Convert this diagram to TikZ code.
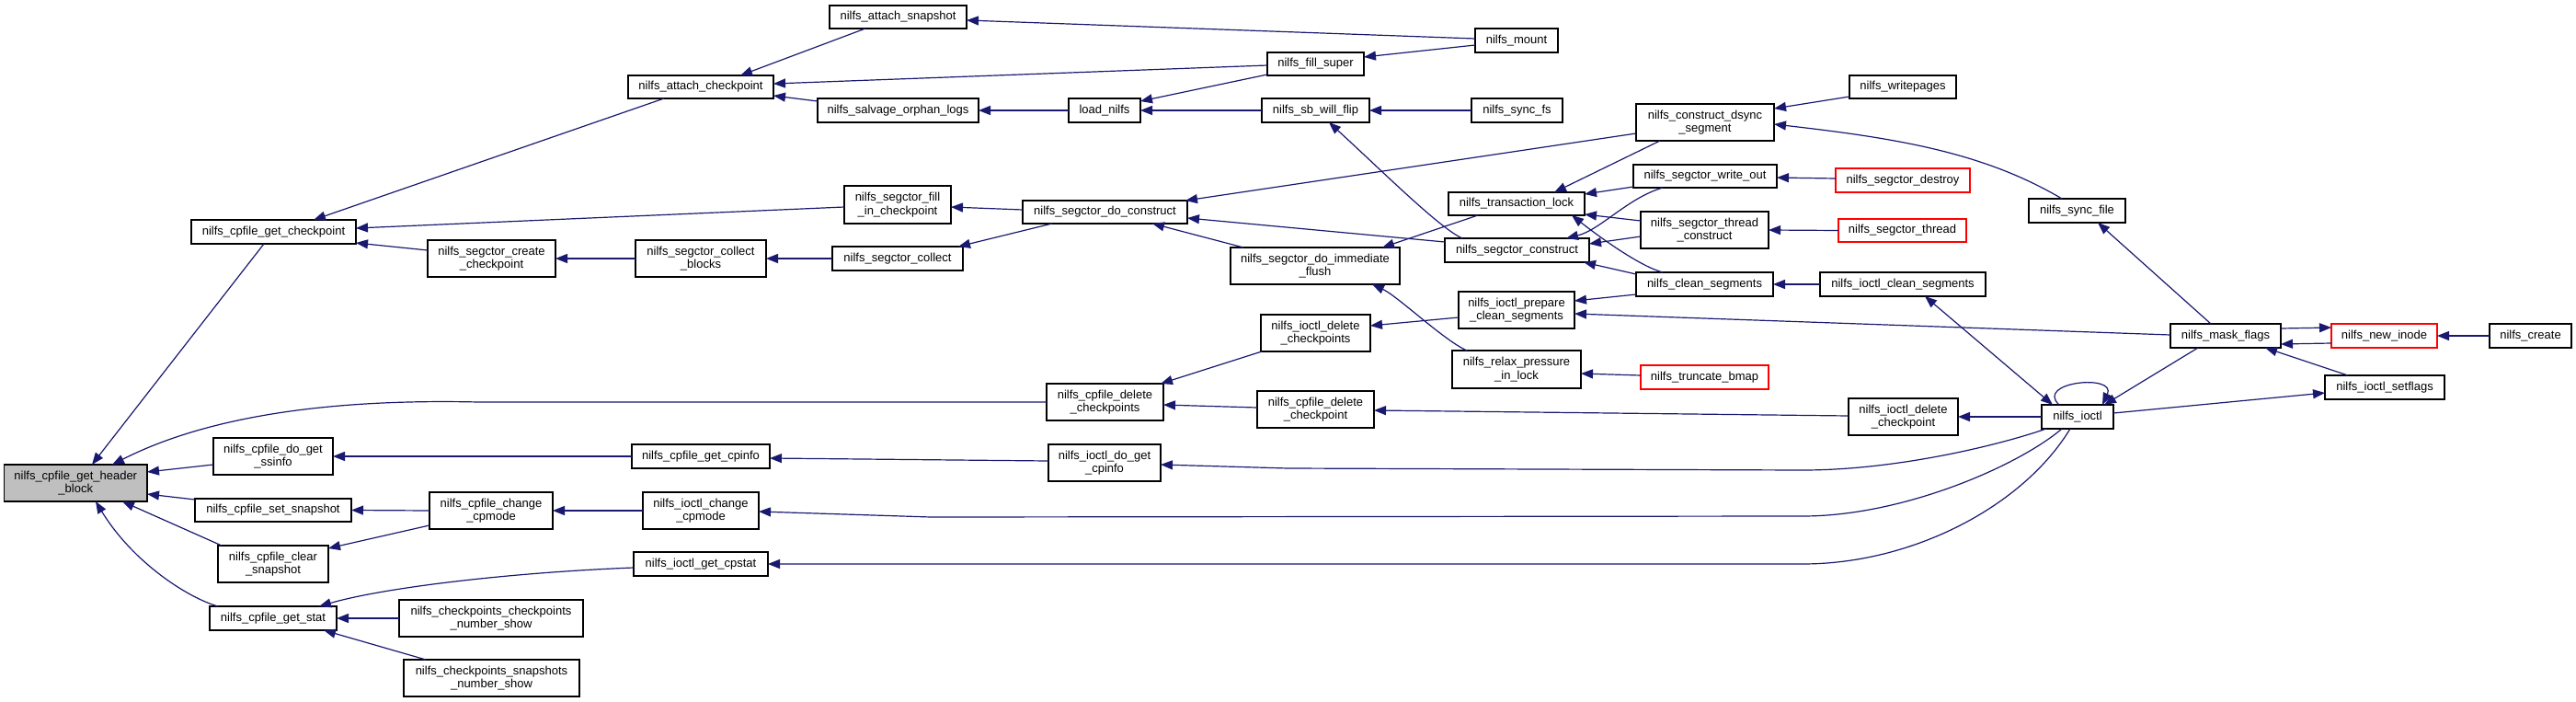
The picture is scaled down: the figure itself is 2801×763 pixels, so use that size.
\documentclass[tikz,border=0pt]{standalone}
\usepackage{fontspec}
\setmainfont{Liberation Sans}
\usetikzlibrary{arrows.meta}
\definecolor{mblue}{RGB}{25,25,112}
\definecolor{hbgray}{RGB}{191,191,191}
\newcommand\bx[7][]{%
  \pgfmathsetmacro\bxcx{(#3+#5)/2}\pgfmathsetmacro\bxcy{(#4+#6)/2}%
  \pgfmathsetmacro\bxw{#5-#3}\pgfmathsetmacro\bxh{#6-#4}%
  \node[box,#1,minimum width=\bxw pt,minimum height=\bxh pt] (#2) at (\bxcx,\bxcy) {#7};}
\begin{document}
\begin{tikzpicture}[x=1pt,y=-1pt,
  box/.style={draw=black, line width=1.2pt, fill=white, rectangle, inner sep=0pt, outer sep=0pt, align=center, font=\fontsize{13}{14.7}\selectfont},
  redbox/.style={draw=red},
  edge/.style={draw=mblue, line width=1.2pt, -{Triangle[length=13pt,width=10pt]}},
  bothedge/.style={draw=mblue, line width=1.2pt, {Triangle[length=13pt,width=10pt]}-{Triangle[length=13pt,width=10pt]}}]
\useasboundingbox (0,0) rectangle (2801,763);
% nodes
\bx[fill=hbgray]{hb}{4.5}{505}{160}{545}{nilfs\_cpfile\_get\_header\\\_block}
\bx{gcp}{208}{239}{387}{265}{nilfs\_cpfile\_get\_checkpoint}
\bx{ach}{683}{82}{841}{107}{nilfs\_attach\_checkpoint}
\bx{asn}{902}{6}{1051}{31}{nilfs\_attach\_snapshot}
\bx{mnt}{1604}{31}{1694}{57}{nilfs\_mount}
\bx{fsu}{1378}{57}{1483}{82}{nilfs\_fill\_super}
\bx{sol}{889}{107}{1064}{133}{nilfs\_salvage\_orphan\_logs}
\bx{lnf}{1162}{107}{1240}{133}{load\_nilfs}
\bx{swf}{1372}{107}{1489}{133}{nilfs\_sb\_will\_flip}
\bx{sfs}{1600}{107}{1699}{133}{nilfs\_sync\_fs}
\bx{fic}{918}{202}{1034}{243}{nilfs\_segctor\_fill\\\_in\_checkpoint}
\bx{sdc}{1112}{218}{1291}{243}{nilfs\_segctor\_do\_construct}
\bx{scc}{465}{261}{604}{301}{nilfs\_segctor\_create\\\_checkpoint}
\bx{scb}{691}{261}{833}{301}{nilfs\_segctor\_collect\\\_blocks}
\bx{sco}{905}{268}{1047}{294}{nilfs\_segctor\_collect}
\bx{cds}{1779}{113}{1929}{153}{nilfs\_construct\_dsync\\\_segment}
\bx{wpg}{2011}{82}{2127}{107}{nilfs\_writepages}
\bx{swo}{1776}{179}{1932}{204}{nilfs\_segctor\_write\_out}
\bx[redbox]{sds}{1996}{183}{2142}{209}{nilfs\_segctor\_destroy}
\bx{stc}{1784}{230}{1923}{270}{nilfs\_segctor\_thread\\\_construct}
\bx[redbox]{sth}{1999}{238}{2138}{263}{nilfs\_segctor\_thread}
\bx{tlk}{1575}{209}{1723}{234}{nilfs\_transaction\_lock}
\bx{scn}{1571}{259}{1728}{285}{nilfs\_segctor\_construct}
\bx{dif}{1338}{269}{1522}{309}{nilfs\_segctor\_do\_immediate\\\_flush}
\bx{cls}{1779}{296}{1928}{322}{nilfs\_clean\_segments}
\bx{ics}{1979}{296}{2159}{322}{nilfs\_ioctl\_clean\_segments}
\bx{ipc}{1586}{317}{1712}{357}{nilfs\_ioctl\_prepare\\\_clean\_segments}
\bx{idc}{1371}{342}{1490}{382}{nilfs\_ioctl\_delete\\\_checkpoints}
\bx{rpl}{1579}{381}{1719}{422}{nilfs\_relax\_pressure\\\_in\_lock}
\bx[redbox]{tbm}{1784}{397}{1923}{423}{nilfs\_truncate\_bmap}
\bx{cdcs}{1138}{417}{1265}{457}{nilfs\_cpfile\_delete\\\_checkpoints}
\bx{cdc}{1367}{425}{1494}{465}{nilfs\_cpfile\_delete\\\_checkpoint}
\bx{iodc}{2010}{433}{2129}{473}{nilfs\_ioctl\_delete\\\_checkpoint}
\bx{ioc}{2220}{440}{2298}{466}{nilfs\_ioctl}
\bx{ssi}{232}{476}{362}{516}{nilfs\_cpfile\_do\_get\\\_ssinfo}
\bx{cpi}{687}{483}{837}{509}{nilfs\_cpfile\_get\_cpinfo}
\bx{igc}{1140}{483}{1262}{523}{nilfs\_ioctl\_do\_get\\\_cpinfo}
\bx{ssn}{212}{542}{382}{567}{nilfs\_cpfile\_set\_snapshot}
\bx{ccm}{467}{535}{601}{575}{nilfs\_cpfile\_change\\\_cpmode}
\bx{icm}{699}{535}{825}{575}{nilfs\_ioctl\_change\\\_cpmode}
\bx{csn}{237}{593}{357}{633}{nilfs\_cpfile\_clear\\\_snapshot}
\bx{igs}{689}{600}{835}{626}{nilfs\_ioctl\_get\_cpstat}
\bx{gst}{228}{659}{366}{685}{nilfs\_cpfile\_get\_stat}
\bx{ccn}{434}{652}{634}{692}{nilfs\_checkpoints\_checkpoints\\\_number\_show}
\bx{csh}{439}{717}{630}{757}{nilfs\_checkpoints\_snapshots\\\_number\_show}
\bx{sfi}{2206}{216}{2311}{242}{nilfs\_sync\_file}
\bx{mfl}{2360}{352}{2480}{378}{nilfs\_mask\_flags}
\bx[redbox]{nin}{2535}{352}{2650}{378}{nilfs\_new\_inode}
\bx{cre}{2707}{352}{2796}{378}{nilfs\_create}
\bx{isf}{2528}{408}{2658}{434}{nilfs\_ioctl\_setflags}
% edges
\draw[edge] ([shift={(-10.5,13)}]gcp.center) -- ([shift={(17.75,-20)}]hb.center);
\draw[edge] (cdcs.west) -- (520,437) .. controls (390,434) and (240,445) .. ([shift={(39.75,-20)}]hb.center);
\draw[edge] ([shift={(-65,9)}]ssi.center) -- ([shift={(77.75,-12)}]hb.center);
\draw[edge] ([shift={(-85,-11.5)}]ssn.center) -- ([shift={(77.75,12)}]hb.center);
\draw[edge] ([shift={(-56,-20)}]csn.center) -- ([shift={(50.75,20)}]hb.center);
\draw[edge] ([shift={(-60,-13)}]gst.center) .. controls (205,650) and (145,612) .. ([shift={(21.75,20)}]hb.center);
\draw[edge] ([shift={(-40,12.5)}]ach.center) -- ([shift={(43.5,-13)}]gcp.center);
\draw[edge] ([shift={(-58,2.5)}]fic.center) -- ([shift={(89.5,-4)}]gcp.center);
\draw[edge] ([shift={(-69.5,-9)}]scc.center) -- ([shift={(89.5,12)}]gcp.center);
\draw[edge] ([shift={(-35.5,12.5)}]asn.center) -- ([shift={(43,-12.5)}]ach.center);
\draw[edge] ([shift={(-52.5,1.5)}]fsu.center) -- ([shift={(79,-3.5)}]ach.center);
\draw[edge] ([shift={(-87.5,-10)}]sol.center) -- ([shift={(79,9.5)}]ach.center);
\draw[edge] ([shift={(-45,-2)}]mnt.center) -- ([shift={(74.5,3.5)}]asn.center);
\draw[edge] ([shift={(-45,5)}]mnt.center) -- ([shift={(52.5,-7.5)}]fsu.center);
\draw[edge] (lnf.west) -- (sol.east);
\draw[edge] ([shift={(-52.5,11.5)}]fsu.center) -- ([shift={(39,-10)}]lnf.center);
\draw[edge] (swf.west) -- (lnf.east);
\draw[edge] (sfs.west) -- (swf.east);
\draw[edge] ([shift={(-59.5,-13)}]scn.center) .. controls (1565,248) and (1500,183) .. ([shift={(14.5,13)}]swf.center);
\draw[edge] ([shift={(-89.5,-2.5)}]sdc.center) -- ([shift={(58,2.5)}]fic.center);
\draw[edge] ([shift={(-57.5,12.5)}]sdc.center) -- ([shift={(66,-13)}]sco.center);
\draw[edge] (sco.west) -- (scb.east);
\draw[edge] (scb.west) -- (scc.east);
\draw[edge] ([shift={(-75,12)}]cds.center) -- ([shift={(87.5,-12.5)}]sdc.center);
\draw[edge] ([shift={(-78.5,-9)}]scn.center) -- ([shift={(89.5,6.5)}]sdc.center);
\draw[edge] ([shift={(-78,-20)}]dif.center) -- ([shift={(51.5,12.5)}]sdc.center);
\draw[edge] ([shift={(-58,10.5)}]wpg.center) -- ([shift={(75,-15)}]cds.center);
\draw[edge] ([shift={(-16.5,-13)}]sfi.center) .. controls (2156,165) and (2060,150) .. ([shift={(75,2)}]cds.center);
\draw[edge] ([shift={(-49,20)}]cds.center) -- ([shift={(41,-12.5)}]tlk.center);
\draw[edge] ([shift={(-78,11.5)}]swo.center) -- ([shift={(74,-10.5)}]tlk.center);
\draw[edge] ([shift={(-69.5,-10)}]stc.center) -- ([shift={(74,11.5)}]tlk.center);
\draw[edge] ([shift={(-45.5,-13)}]cls.center) .. controls (1785,290) and (1745,262) .. ([shift={(60,12.5)}]tlk.center);
\draw[edge] ([shift={(-42,12.5)}]tlk.center) -- ([shift={(73,-20)}]dif.center);
\draw[edge] ([shift={(-46,12.5)}]swo.center) .. controls (1770,215) and (1740,250) .. ([shift={(53.5,-13)}]scn.center);
\draw[edge] ([shift={(-69.5,7)}]stc.center) -- ([shift={(78.5,-7)}]scn.center);
\draw[edge] ([shift={(-74.5,-11)}]cls.center) -- ([shift={(72.5,13)}]scn.center);
\draw[edge] ([shift={(-73,-2)}]sds.center) -- ([shift={(78,1.5)}]swo.center);
\draw[edge] (sth.west) -- (stc.east);
\draw[edge] (ics.west) -- (cls.east);
\draw[edge] ([shift={(-74.5,11)}]cls.center) -- ([shift={(63,-10)}]ipc.center);
\draw[edge] ([shift={(-60,-1)}]mfl.center) -- ([shift={(63,4)}]ipc.center);
\draw[edge] ([shift={(-63,8)}]ipc.center) -- ([shift={(59.5,-8)}]idc.center);
\draw[edge] ([shift={(-58.5,20)}]idc.center) -- ([shift={(60.5,-20)}]cdcs.center);
\draw[edge] ([shift={(-54,-20.5)}]rpl.center) .. controls (1570,370) and (1520,322) .. ([shift={(62,20)}]dif.center);
\draw[edge] ([shift={(-69.5,-2)}]tbm.center) -- ([shift={(70,4.5)}]rpl.center);
\draw[edge] ([shift={(-63.5,-2)}]cdc.center) -- ([shift={(63.5,3)}]cdcs.center);
\draw[edge] ([shift={(-59.5,-1)}]iodc.center) -- ([shift={(63.5,1)}]cdc.center);
\draw[edge] (ioc.west) -- (iodc.east);
\draw[bothedge] ([shift={(-27,-13)}]ioc.center) -- ([shift={(24,13)}]ics.center);
\draw[edge] ([shift={(-34,13)}]ioc.center) .. controls (2170,485) and (2060,511) .. (1960,511) -- (1400,509) -- ([shift={(61,2)}]igc.center);
\draw[edge] ([shift={(-17,13)}]ioc.center) .. controls (2195,506) and (2070,561) .. (1960,561) -- (1012,562) -- ([shift={(63,1)}]icm.center);
\draw[edge] ([shift={(-8,13)}]ioc.center) .. controls (2200,550) and (2080,613) .. (1960,613) -- (igs.east);
\draw[edge] ([shift={(-20,-13)}]ioc.center) .. controls (2212,415) and (2302,406) .. ([shift={(27,-13)}]ioc.center);
\draw[edge] ([shift={(-30,13)}]mfl.center) -- ([shift={(29,-13)}]ioc.center);
\draw[edge] ([shift={(39,-4)}]ioc.center) -- ([shift={(-65,6)}]isf.center);
\draw[edge] ([shift={(-40,-13)}]isf.center) -- ([shift={(43,13)}]mfl.center);
\draw[edge] ([shift={(60,-8)}]mfl.center) -- ([shift={(-57.5,-9)}]nin.center);
\draw[edge] ([shift={(-57.5,8)}]nin.center) -- ([shift={(60,9)}]mfl.center);
\draw[edge] (cre.west) -- (nin.east);
\draw[edge] ([shift={(-16,-13)}]mfl.center) -- ([shift={(22.5,13)}]sfi.center);
\draw[edge] ([shift={(-61,-2)}]igc.center) -- ([shift={(75,2)}]cpi.center);
\draw[edge] (cpi.west) -- (ssi.east);
\draw[edge] (icm.west) -- (ccm.east);
\draw[edge] (ccm.west) -- (ssn.east);
\draw[edge] ([shift={(-67,16)}]ccm.center) -- ([shift={(60,-17)}]csn.center);
\draw[edge] ([shift={(-73,4)}]igs.center) .. controls (560,622) and (420,638) .. ([shift={(50,-13)}]gst.center);
\draw[edge] (ccn.west) -- (gst.east);
\draw[edge] ([shift={(-71.5,-20)}]csh.center) -- ([shift={(55,13)}]gst.center);
\end{tikzpicture}
\end{document}
